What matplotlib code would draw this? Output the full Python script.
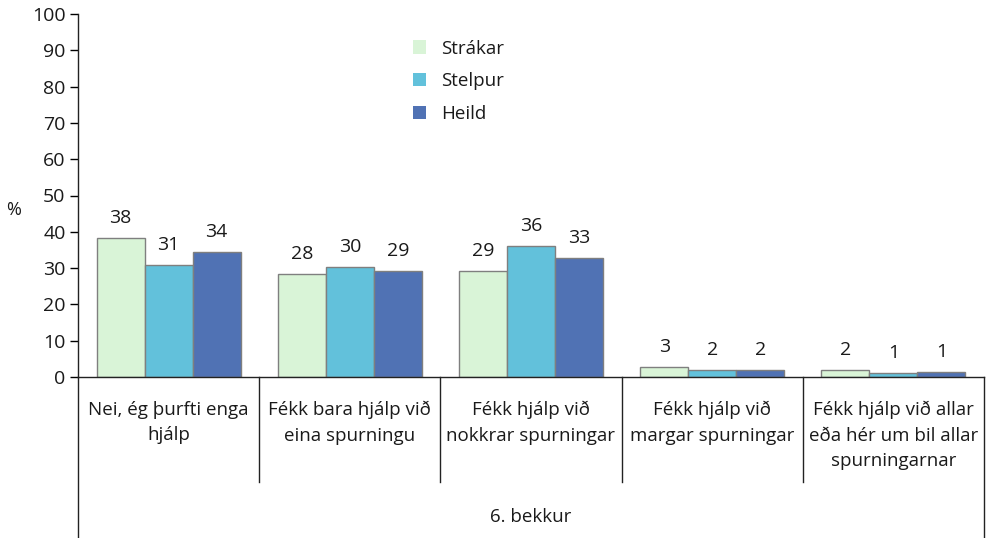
import matplotlib
matplotlib.use("Agg")
import matplotlib.pyplot as plt
import numpy as np

categories = [
    "Nei, ég þurfti enga\nhjálp",
    "Fékk bara hjálp við\neina spurningu",
    "Fékk hjálp við\nnokkrar spurningar",
    "Fékk hjálp við\nmargar spurningar",
    "Fékk hjálp við allar\neða hér um bil allar\nspurningarnar",
]
series_names = ["Strákar", "Stelpur", "Heild"]
strakar = [38.2, 28.4, 29.3, 2.7, 2.0]
stelpur = [30.8, 30.4, 36.1, 2.0, 1.0]
heild = [34.3, 29.3, 32.8, 2.0, 1.4]
group_label = "6. bekkur"
y_ticks = list(range(0, 101, 10))

colors = ["#D9F4D7", "#62C1DB", "#5072B4"]
FONT = "Open Sans"
plt.rcParams["font.family"] = [FONT, "DejaVu Sans"]

W, H = 989, 538
fig = plt.figure(figsize=(W / 100, H / 100), dpi=100)
ax_left, ax_right, ax_top, ax_bot = 78, 984, 14, 377
ax = fig.add_axes([ax_left / W, 1 - ax_bot / H, (ax_right - ax_left) / W, (ax_bot - ax_top) / H])

x = np.arange(len(categories))
bw = 0.265
for i, (vals, name) in enumerate(zip([strakar, stelpur, heild], series_names)):
    bars = ax.bar(x + (i - 1) * bw, vals, bw, color=colors[i], edgecolor="#7f7f7f",
                  linewidth=1.0, label=name)
    ax.bar_label(bars, labels=[f"{v:.0f}" for v in vals], padding=8, fontsize=14, color="#1a1a1a")

ax.set_xlim(-0.5, len(categories) - 0.5)
ax.set_ylim(0, 100)
ax.set_yticks(y_ticks)
ax.tick_params(axis="y", direction="out", length=6, width=1, labelsize=14, pad=3, labelcolor="#1a1a1a")
ax.set_xticks([])
for s in ["top", "right"]:
    ax.spines[s].set_visible(False)
for s in ["left", "bottom"]:
    ax.spines[s].set_linewidth(1)
    ax.spines[s].set_color("#222222")

# axis extension lines below
ph = ax_bot - ax_top
sep_bottom = -(482 - ax_bot) / ph * 100
full_bottom = -(H - ax_bot) / ph * 100
for b in x[:-1] + 0.5:
    ax.plot([b, b], [0, sep_bottom], color="#222222", lw=1, clip_on=False)
ax.plot([-0.5, -0.5], [0, full_bottom], color="#222222", lw=1, clip_on=False)
ax.plot([len(categories) - 0.5] * 2, [0, full_bottom], color="#222222", lw=1, clip_on=False)

# category labels
for xi, lab in zip(x, categories):
    ax.text(xi, -(401 - ax_bot) / ph * 100, lab, ha="center", va="top", fontsize=13.5,
            linespacing=1.52, color="#1a1a1a")
ax.text((len(categories) - 1) / 2, -(517 - ax_bot) / ph * 100, group_label, ha="center",
        va="center", fontsize=13.5, color="#1a1a1a")

fig.text(14 / W, 1 - 210 / H, "%", ha="center", va="center", fontsize=13, color="#1a1a1a")

leg = fig.legend(loc="upper left", bbox_to_anchor=(405 / W, 1 - 32 / H), frameon=False,
                 fontsize=13.5, handlelength=0.72, handleheight=0.72, handletextpad=0.8,
                 labelspacing=0.78, borderaxespad=0, labelcolor="#1a1a1a")
for p in leg.get_patches():
    p.set_edgecolor("none")

fig.savefig("out.png", dpi=100)
